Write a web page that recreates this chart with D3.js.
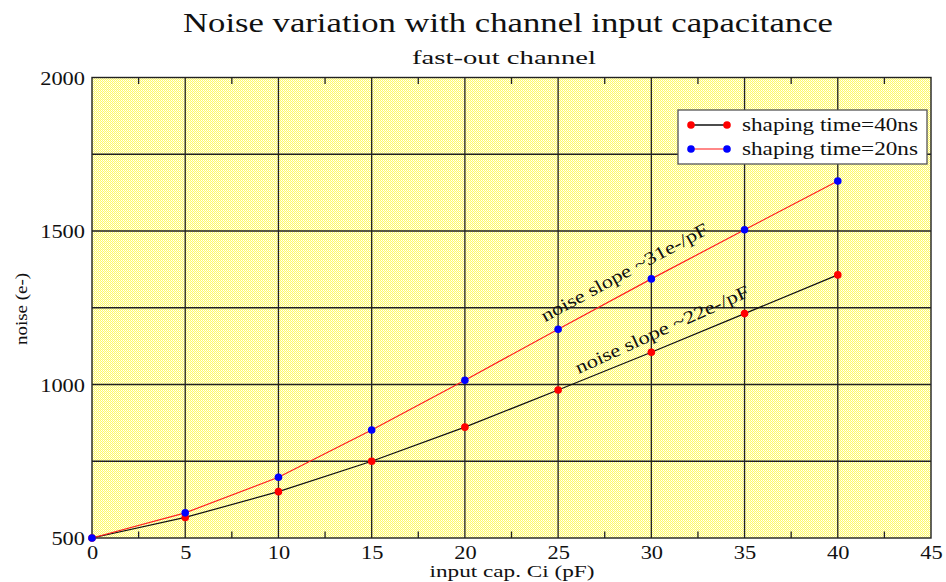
<!DOCTYPE html>
<html>
<head>
<meta charset="utf-8">
<script src="https://cdn.jsdelivr.net/npm/d3@7"></script>
<style>
  html, body { margin: 0; padding: 0; background: #fff; }
  svg { display: block; }
  text { font-family: "Liberation Serif", "Times New Roman", serif; fill: #111; }
</style>
</head>
<body>
<svg id="chart" width="946" height="582"></svg>
<script>
// Input capacitance (pF)
const capacitance = [0, 5, 10, 15, 20, 25, 30, 35, 40];
// Noise (e-) for each shaping time
const noise40ns = [500, 567, 651, 750, 861, 982, 1105, 1231, 1357];
const noise20ns = [500, 582, 698, 852, 1014, 1180, 1344, 1504, 1663];
const seriesNames = ["shaping time=40ns", "shaping time=20ns"];
const xTicks = [0, 5, 10, 15, 20, 25, 30, 35, 40, 45];
const yTicks = [500, 1000, 1500, 2000];
const yGrid = [750, 1000, 1250, 1500, 1750];
const xMinor = [2.5, 7.5, 12.5, 17.5, 22.5, 27.5, 32.5, 37.5, 42.5];
// Slope annotations: label, anchor (pF, e-), angle
const slopeNotes = [
  { label: "noise slope ~31e-/pF", x: 24.3, y: 1203, angle: -28.5, len: 187 },
  { label: "noise slope ~22e-/pF", x: 26.1, y: 1034, angle: -24.5, len: 189 }
];

const svg = d3.select("#chart");
const plotL = 92, plotR = 931, plotT = 77.5, plotB = 538;

const x = d3.scaleLinear().domain([0, 45]).range([plotL, plotR]);
const y = d3.scaleLinear().domain([500, 2000]).range([plotB, plotT]);

// Dotted yellow fill of the plotting area
const defs = svg.append("defs");
const pat = defs.append("pattern").attr("id", "dots")
  .attr("patternUnits", "userSpaceOnUse").attr("width", 2).attr("height", 2);
pat.append("rect").attr("width", 2).attr("height", 2).attr("fill", "#fffa68");
pat.append("rect").attr("x", 1).attr("y", 0).attr("width", 1).attr("height", 1).attr("fill", "#ffffff");
pat.append("rect").attr("x", 0).attr("y", 1).attr("width", 1).attr("height", 1).attr("fill", "#fffed8");

svg.append("rect")
  .attr("x", plotL).attr("y", plotT)
  .attr("width", plotR - plotL).attr("height", plotB - plotT)
  .attr("fill", "url(#dots)");

// Grid
const grid = svg.append("g").attr("stroke", "#222").attr("stroke-width", 1.3);
grid.selectAll("line.v").data(xTicks.slice(1, -1)).join("line")
  .attr("x1", d => x(d)).attr("x2", d => x(d))
  .attr("y1", plotT).attr("y2", plotB);
grid.selectAll("line.h").data(yGrid).join("line")
  .attr("x1", plotL).attr("x2", plotR)
  .attr("y1", d => y(d)).attr("y2", d => y(d));

// Minor ticks on top and bottom edges
const minor = svg.append("g").attr("stroke", "#222").attr("stroke-width", 1.3);
minor.selectAll("line.b").data(xMinor).join("line")
  .attr("x1", d => x(d)).attr("x2", d => x(d))
  .attr("y1", plotB).attr("y2", plotB - 6.5);
minor.selectAll("line.t").data(xMinor).join("line")
  .attr("x1", d => x(d)).attr("x2", d => x(d))
  .attr("y1", plotT).attr("y2", plotT + 6.5);

// Frame
svg.append("rect")
  .attr("x", plotL).attr("y", plotT)
  .attr("width", plotR - plotL).attr("height", plotB - plotT)
  .attr("fill", "none").attr("stroke", "#222").attr("stroke-width", 1.4);

// Axes (labels only; the frame is drawn above)
const digitW = 11.2;
const xAxis = svg.append("g").attr("transform", `translate(0,${plotB})`)
  .call(d3.axisBottom(x).tickValues(xTicks).tickSize(0).tickPadding(6).tickFormat(d3.format("d")));
const yAxis = svg.append("g").attr("transform", `translate(${plotL},0)`)
  .call(d3.axisLeft(y).tickValues(yTicks).tickSize(0).tickPadding(7).tickFormat(d3.format("d")));
[xAxis, yAxis].forEach(ax => {
  ax.select(".domain").remove();
  ax.selectAll("text")
    .attr("font-family", "Liberation Serif")
    .attr("font-size", 19)
    .attr("fill", "#111")
    .attr("textLength", function () { return this.textContent.length * digitW; })
    .attr("lengthAdjust", "spacingAndGlyphs");
});
yAxis.selectAll("text").attr("dy", "0.36em");
xAxis.selectAll("text").attr("dy", "0.8em");

// Series
const line = d3.line().x(d => x(d[0])).y(d => y(d[1]));
const series = [
  { values: noise40ns, lineColor: "#111", markColor: "#ff0000" },
  { values: noise20ns, lineColor: "#ff2020", markColor: "#0000ff" }
];
series.forEach(s => {
  const pts = capacitance.map((c, i) => [c, s.values[i]]);
  svg.append("path").datum(pts)
    .attr("d", line).attr("fill", "none")
    .attr("stroke", s.lineColor).attr("stroke-width", 1.2);
});
series.forEach(s => {
  const pts = capacitance.map((c, i) => [c, s.values[i]]);
  svg.append("g").selectAll("circle").data(pts).join("circle")
    .attr("cx", d => x(d[0])).attr("cy", d => y(d[1]))
    .attr("r", 3.8).attr("fill", s.markColor);
});

// Slope annotations
svg.append("g").selectAll("text").data(slopeNotes).join("text")
  .attr("transform", d => `translate(${x(d.x)},${y(d.y)}) rotate(${d.angle})`)
  .attr("font-size", 18)
  .attr("textLength", d => d.len)
  .attr("lengthAdjust", "spacingAndGlyphs")
  .text(d => d.label);

// Legend
const legend = svg.append("g");
legend.append("rect")
  .attr("x", 678).attr("y", 110).attr("width", 249).attr("height", 54)
  .attr("fill", "#fff").attr("stroke", "#555").attr("stroke-width", 1.3);
series.forEach((s, i) => {
  const ly = 125 + i * 24;
  legend.append("line")
    .attr("x1", 691).attr("x2", 727).attr("y1", ly).attr("y2", ly)
    .attr("stroke", i === 0 ? "#111" : "#ff6060").attr("stroke-width", 1.3);
  legend.selectAll(null).data([691, 727]).join("circle")
    .attr("cx", d => d).attr("cy", ly).attr("r", 3.8).attr("fill", s.markColor);
  legend.append("text")
    .attr("x", 742).attr("y", ly + 6)
    .attr("font-size", 18)
    .attr("textLength", 176).attr("lengthAdjust", "spacingAndGlyphs")
    .text(seriesNames[i]);
});

// Titles
svg.append("text")
  .attr("x", 508).attr("y", 32).attr("text-anchor", "middle")
  .attr("font-size", 28)
  .attr("textLength", 650).attr("lengthAdjust", "spacingAndGlyphs")
  .text("Noise variation with channel input capacitance");
svg.append("text")
  .attr("x", 504).attr("y", 64).attr("text-anchor", "middle")
  .attr("font-size", 18)
  .attr("textLength", 184).attr("lengthAdjust", "spacingAndGlyphs")
  .text("fast-out channel");
svg.append("text")
  .attr("x", 512).attr("y", 577).attr("text-anchor", "middle")
  .attr("font-size", 17)
  .attr("textLength", 165).attr("lengthAdjust", "spacingAndGlyphs")
  .text("input cap. Ci (pF)");
svg.append("text")
  .attr("transform", "translate(27,309) rotate(-90)")
  .attr("text-anchor", "middle")
  .attr("font-size", 16)
  .attr("textLength", 72).attr("lengthAdjust", "spacingAndGlyphs")
  .text("noise (e-)");
</script>
</body>
</html>
